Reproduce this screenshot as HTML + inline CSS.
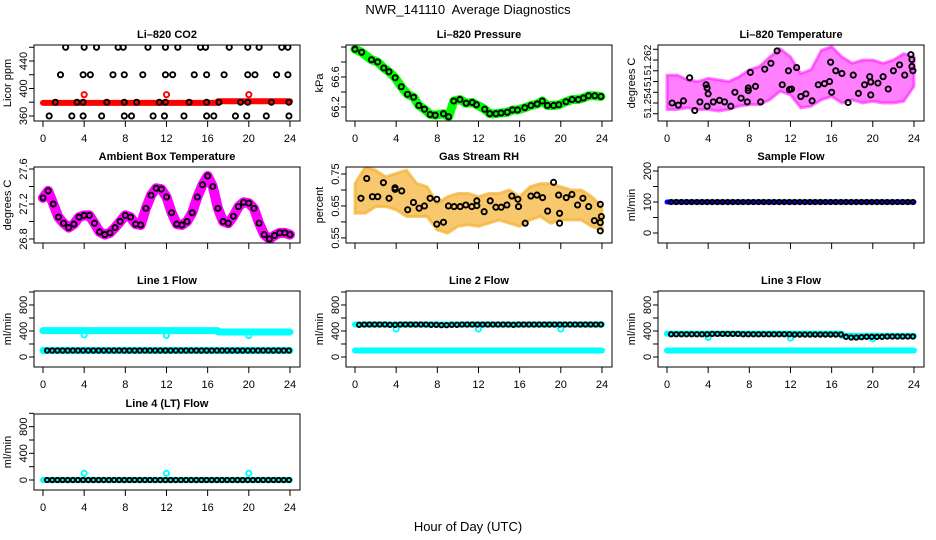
<!DOCTYPE html>
<html><head><meta charset="utf-8"><style>
body{margin:0;background:#fff}
svg{display:block;font-family:"Liberation Sans",sans-serif}
</style></head><body>
<svg id="chart" width="936" height="540" viewBox="0 0 936 540" xmlns="http://www.w3.org/2000/svg">
<rect width="936" height="540" fill="#fff"/>
<text x="468" y="14" font-size="13" text-anchor="middle">NWR_141110&#160; Average Diagnostics</text>
<text x="468" y="531" font-size="13" text-anchor="middle">Hour of Day (UTC)</text>
</svg>
<script>
// ---- data ----
const hourTicks = [0,4,8,12,16,20,24];
const halfHours = [0.4,0.9,1.4,1.9,2.4,2.9,3.4,3.9,4.4,4.9,5.4,5.9,6.4,6.9,7.4,7.9,8.4,8.9,9.4,9.9,10.4,10.9,11.4,11.9,12.4,12.9,13.4,13.9,14.4,14.9,15.4,15.9,16.4,16.9,17.4,17.9,18.4,18.9,19.4,19.9,20.4,20.9,21.4,21.9,22.4,22.9,23.4,23.9];
// CO2
const co2Hours = [2.2,4.0,5.2,7.3,7.8,10.2,11.9,13.1,15.3,15.8,18.1,19.9,21.0,23.2,23.8, 1.7,3.9,4.6,6.8,7.9,9.7,11.9,12.6,14.7,15.9,17.6,19.9,20.6,22.7,23.8, 1.2,3.3,3.9,6.2,7.9,9.1,11.3,11.9,14.2,15.9,17.1,19.2,19.9,22.2,23.9, 0.6,2.8,3.9,5.7,7.9,8.6,10.7,11.8,13.7,15.9,16.6,18.7,19.8,21.7,23.9];
const co2Values = [460,460,460,460,460,460,460,460,460,460,460,460,460,460,460, 420,420,420,420,420,420,420,420,420,420,420,420,420,420,420, 380,380,380,380,380,380,380,380,380,380,380,380,380,380,380, 360,360,360,360,360,360,360,360,360,360,360,360,360,360,360];
const co2RedSegStart = [0,17], co2RedSegEnd = [17,24], co2RedSegValue = [379,381.5];
const outlierHours = [4,12,20];
const co2RedOutliers = [391,391,391];
// Pressure
const presHours = [0,0.65,1.6,2.2,2.8,3.3,3.9,4.5,5.1,5.7,6.2,6.75,7.3,7.8,8.6,9.1,9.6,10.2,10.8,11.4,11.8,12.6,13.1,13.7,14.2,14.8,15.3,15.8,16.5,17.1,17.7,18.2,18.7,19.3,19.8,20.5,21.1,21.7,22.2,22.7,23.3,23.9];
const presValues = [66.97,66.93,66.83,66.80,66.72,66.67,66.59,66.47,66.37,66.33,66.22,66.17,66.10,66.09,66.11,66.07,66.28,66.30,66.25,66.26,66.23,66.17,66.11,66.11,66.12,66.13,66.16,66.16,66.19,66.22,66.24,66.28,66.22,66.22,66.23,66.27,66.30,66.30,66.32,66.35,66.35,66.34];
// Li-820 temperature
const tempHours = [0.5,1.1,1.6,2.2,2.7,3.2,3.8,3.9,4,3.9,4.5,5.1,5.6,6.2,6.6,7.2,7.8,7.9,7.9,8.1,8.6,9.1,9.5,10.1,10.7,11.2,11.8,11.9,12.1,12.6,13,13.5,14.1,14.7,15.3,15.8,15.9,16.0,16.4,17,17.6,18.1,18.6,19.2,19.7,19.8,19.8,20.5,21,21.5,22,22.6,23.1,23.7,23.8,23.8,23.9];
const tempValues = [51.2540,51.2536,51.2544,51.2587,51.2526,51.2542,51.2574,51.2568,51.2557,51.2534,51.2542,51.2545,51.2542,51.2534,51.2560,51.2549,51.2542,51.2568,51.2563,51.2597,51.2571,51.2542,51.2603,51.2614,51.2637,51.2574,51.2600,51.2565,51.2566,51.2606,51.2552,51.2557,51.2544,51.2574,51.2576,51.2580,51.2616,51.2560,51.2600,51.2595,51.2541,51.2592,51.2558,51.2574,51.2589,51.2579,51.2555,51.2577,51.2589,51.2566,51.2600,51.2611,51.2592,51.2630,51.2621,51.2608,51.2600];
const envHours = [0,1,2,3,4,5,6,7,8,9,10,11,12,13,14,15,16,17,18,19,20,21,22,23,24];
const tempUpper = [51.2592,51.2592,51.2583,51.2580,51.2586,51.2583,51.2580,51.2589,51.2602,51.2608,51.2626,51.2641,51.2626,51.2595,51.2602,51.2638,51.2645,51.2626,51.2614,51.2620,51.2620,51.2614,51.2620,51.2632,51.2626];
const tempLower = [51.2528,51.2528,51.2531,51.2528,51.2528,51.2525,51.2528,51.2534,51.2537,51.2537,51.2546,51.2562,51.2555,51.2531,51.2534,51.2546,51.2552,51.2540,51.2546,51.2540,51.2543,51.2540,51.2540,51.2543,51.2571];
// Ambient box temperature
const ambHours = [0,0.5,1,1.5,2,2.5,3,3.5,4,4.5,5,5.5,6,6.5,7,7.5,8,8.5,9,9.5,10,10.5,11,11.5,12,12.5,13,13.5,14,14.5,15,15.5,16,16.5,17,17.5,18,18.5,19,19.5,20,20.5,21,21.5,22,22.5,23,23.5,24];
const ambValues = [27.27,27.35,27.2,27.05,26.98,26.93,26.97,27.05,27.07,27.07,26.98,26.88,26.85,26.87,26.93,27.0,27.07,27.05,26.97,26.96,27.15,27.3,27.38,27.37,27.28,27.1,26.97,26.96,27.0,27.1,27.28,27.42,27.52,27.4,27.15,27.0,26.98,27.06,27.17,27.22,27.21,27.15,26.98,26.85,26.8,26.84,26.87,26.87,26.85];
// Gas stream RH
const rhUpper = [0.720,0.772,0.762,0.741,0.752,0.762,0.720,0.710,0.658,0.679,0.689,0.689,0.679,0.689,0.689,0.700,0.679,0.710,0.720,0.720,0.710,0.700,0.700,0.679,0.648];
const rhLower = [0.627,0.627,0.648,0.648,0.638,0.617,0.617,0.617,0.575,0.565,0.586,0.591,0.586,0.596,0.606,0.596,0.586,0.606,0.617,0.596,0.606,0.606,0.606,0.586,0.575];
const rhHours = [0.58,1.14,1.69,2.21,2.76,3.31,3.89,3.89,4.54,5.12,5.68,6.23,6.75,7.30,7.95,7.95,8.60,9.08,9.63,10.22,10.77,11.35,11.84,11.84,12.55,13.14,13.69,14.21,14.76,15.24,15.83,15.89,16.54,17.09,17.68,18.23,18.72,19.30,19.79,19.88,19.88,20.53,21.08,21.63,22.15,22.71,23.26,23.84,23.84,23.94,23.84];
const rhValues = [0.674,0.736,0.679,0.679,0.723,0.674,0.707,0.702,0.697,0.638,0.661,0.643,0.650,0.674,0.671,0.593,0.599,0.650,0.648,0.648,0.653,0.648,0.651,0.666,0.632,0.666,0.646,0.646,0.653,0.681,0.671,0.648,0.596,0.681,0.684,0.676,0.634,0.724,0.684,0.627,0.596,0.676,0.686,0.653,0.674,0.648,0.604,0.655,0.598,0.617,0.572];
// Flows
const sampleFlow = [100,100,100,100,100,100,100,100,100,100,100,100,100,100,100,100,100,100,100,100,100,100,100,100,100,100,100,100,100,100,100,100,100,100,100,100,100,100,100,100,100,100,100,100,100,100,100,100];
const line1Black = [100,100,100,100,100,100,100,100,100,100,100,100,100,100,100,100,100,100,100,100,100,100,100,100,100,100,100,100,100,100,100,100,100,100,100,100,100,100,100,100,100,100,100,100,100,100,100,100];
const line2Black = [495,500,500,500,500,500,495,495,500,500,500,500,500,500,495,495,490,490,495,495,500,500,500,500,500,500,500,500,500,500,495,500,500,500,500,500,500,500,500,500,500,500,500,500,500,500,500,500];
const line3Black = [350,350,350,350,350,350,350,350,355,355,355,355,355,355,350,350,350,350,350,350,350,350,350,350,345,345,345,345,345,345,345,345,345,345,310,300,300,305,310,310,310,310,315,315,315,315,315,315];
const line4Black = [0,0,0,0,0,0,0,0,0,0,0,0,0,0,0,0,0,0,0,0,0,0,0,0,0,0,0,0,0,0,0,0,0,0,0,0,0,0,0,0,0,0,0,0,0,0,0,0];
const line1CyanStart = [0,17,0], line1CyanEnd = [17,24,24], line1CyanValue = [405,385,100];
const line2CyanStart = [0,0], line2CyanEnd = [24,24], line2CyanValue = [500,100];
const line3CyanStart = [0,17,0], line3CyanEnd = [17,24,24], line3CyanValue = [360,325,100];
const line4CyanStart = [0], line4CyanEnd = [24], line4CyanValue = [0];
const sampleBlueStart = [0], sampleBlueEnd = [24], sampleBlueValue = [100];
const line1Outliers = [340,330,330];
const line2Outliers = [430,430,430];
const line3Outliers = [300,290,280];
const line4Outliers = [100,100,100];

// ---- rendering ----
const svg = document.getElementById('chart');
const NS = 'http://www.w3.org/2000/svg';
function mk(tag, attrs, parent){const e=document.createElementNS(NS,tag);for(const k in attrs)e.setAttribute(k,attrs[k]);(parent||svg).appendChild(e);return e;}

const colX = [34,346,658], rowY = [45,167,291,414], W = 266, Hh = 76;

function panel(o){
  const x0 = colX[o.col], y0 = rowY[o.row];
  const g = mk('g',{});
  
  
  const xs = h => x0 + 9 + h * 10.29;
  const ys = v => y0 + Hh - (v - o.lo) / (o.hi - o.lo) * Hh;
  const clipId = 'clip' + o.col + o.row;
  const cp = mk('clipPath',{id:clipId},g); mk('rect',{x:x0,y:y0,width:W,height:Hh},cp);
  const plot = mk('g',{'clip-path':'url(#'+clipId+')'},g);
  o.draw(plot, xs, ys);
  const box = mk('rect',{x:x0,y:y0,width:W,height:Hh,fill:'none',stroke:'#000','stroke-width':1},g);
  
  
  const t = mk('text',{x:x0+W/2,y:y0-7,'font-size':11,'font-weight':'bold','text-anchor':'middle'},g);
  t.textContent = o.title;
  
  
  mk('line',{x1:xs(0),x2:xs(24),y1:y0+Hh,y2:y0+Hh,stroke:'#000'},g);
  hourTicks.forEach(h=>{
    mk('line',{x1:xs(h),x2:xs(h),y1:y0+Hh,y2:y0+Hh+6,stroke:'#000'},g);
    if(o.xlabels){const tl=mk('text',{x:xs(h),y:y0+Hh+21,'font-size':11,'text-anchor':'middle'},g);tl.textContent=h;
      
      }
  });
  o.yticks.forEach(v=>{const y=ys(v);mk('line',{x1:x0-5,x2:x0,y1:y,y2:y,stroke:'#000'},g);});
  o.ylabels.forEach((v,i)=>{const y=ys(v);
    const tl=mk('text',{x:x0-7,y:y,'font-size':o.ylabelSize||11,'text-anchor':'middle',transform:'rotate(-90 '+(x0-7)+' '+y+')'},g);
    tl.textContent = o.ylabelText ? o.ylabelText[i] : v;
    
    });
  const yl = mk('text',{x:x0-23,y:y0+Hh/2,'font-size':11,'text-anchor':'middle',transform:'rotate(-90 '+(x0-23)+' '+(y0+Hh/2)+')'},g);
  yl.textContent = o.ytitle;
  
  
}
function circles(p, xs, ys, hrs, vals, color, name, r){
  hrs.forEach((h,i)=>{const c=mk('circle',{cx:xs(h),cy:ys(vals[i]),r:r||2.6,fill:'none',stroke:color,'stroke-width':1.9},p);
    
    });
}
function band(p, xs, ys, hrs, vals, color, w, name){
  const pts = hrs.map((h,i)=>xs(h)+','+ys(vals[i])).join(' ');
  const l = mk('polyline',{points:pts,fill:'none',stroke:color,'stroke-width':w,'stroke-linejoin':'round','stroke-linecap':'round'},p);
  
  
}
function segs(p, xs, ys, s, e, v, color, w, name){
  s.forEach((a,i)=>{const l=mk('line',{x1:xs(a),x2:xs(e[i]),y1:ys(v[i]),y2:ys(v[i]),stroke:color,'stroke-width':w,'stroke-linecap':'round'},p);
    
    });
}
function envelope(p, xs, ys, hrs, up, lo, color, op, name){
  const pts = hrs.map((h,i)=>xs(h)+','+ys(up[i])).concat(hrs.slice().reverse().map((h,i)=>xs(h)+','+ys(lo[hrs.length-1-i]))).join(' ');
  const pg = mk('polygon',{points:pts,fill:color,'fill-opacity':op,stroke:color,'stroke-width':3,'stroke-opacity':op},p);
  
  
}

panel({name:'co2-panel',title:'Li\u2013820 CO2',col:0,row:0,lo:352.7,hi:463.3,yticks:[360,380,400,420,440,460],ylabels:[360,400,440],ytitle:'Licor ppm',xlabels:true,
  draw:(p,xs,ys)=>{segs(p,xs,ys,co2RedSegStart,co2RedSegEnd,co2RedSegValue,'#f00',6,'co2-red-band');
    circles(p,xs,ys,outlierHours,co2RedOutliers,'#f00','co2-red-point');
    circles(p,xs,ys,co2Hours,co2Values,'#000','co2-point');}});
panel({name:'pressure-panel',title:'Li\u2013820 Pressure',col:1,row:0,lo:66.013,hi:67.027,yticks:[66.2,66.4,66.6,66.8,67.0],ylabels:[66.2,66.6],ytitle:'kPa',xlabels:true,
  draw:(p,xs,ys)=>{band(p,xs,ys,presHours,presValues,'#0f0',9,'pressure-band');
    circles(p,xs,ys,presHours,presValues,'#000','pressure-point');}});
panel({name:'temperature-panel',title:'Li\u2013820 Temperature',col:2,row:0,lo:51.25065,hi:51.2648,yticks:[51.252,51.254,51.256,51.258,51.26,51.262,51.264],ylabels:[51.254,51.258,51.262],ylabelText:['51.254','51','51.262'],ylabelSize:10,ytitle:'degrees C',xlabels:true,
  draw:(p,xs,ys)=>{envelope(p,xs,ys,envHours,tempUpper,tempLower,'#f0f',0.5,'temperature-scatter');
    circles(p,xs,ys,tempHours,tempValues,'#000','temperature-point');}});
panel({name:'ambient-panel',title:'Ambient Box Temperature',col:0,row:1,lo:26.754,hi:27.623,yticks:[26.8,27.0,27.2,27.4,27.6],ylabels:[26.8,27.2,27.6],ytitle:'degrees C',xlabels:false,
  draw:(p,xs,ys)=>{band(p,xs,ys,ambHours,ambValues,'#f0f',10,'ambient-band');
    circles(p,xs,ys,ambHours,ambValues,'#000','ambient-point');}});
panel({name:'rh-panel',title:'Gas Stream RH',col:1,row:1,lo:0.534,hi:0.772,yticks:[0.55,0.6,0.65,0.7,0.75],ylabels:[0.55,0.65,0.75],ytitle:'percent',xlabels:false,
  draw:(p,xs,ys)=>{envelope(p,xs,ys,envHours,rhUpper,rhLower,'#f4b030',0.7,'rh-scatter');
    circles(p,xs,ys,rhHours,rhValues,'#000','rh-point');}});
panel({name:'sample-flow-panel',title:'Sample Flow',col:2,row:1,lo:-32.3,hi:212.9,yticks:[0,50,100,150,200],ylabels:[0,100,200],ytitle:'ml/min',xlabels:false,
  draw:(p,xs,ys)=>{segs(p,xs,ys,sampleBlueStart,sampleBlueEnd,sampleBlueValue,'#00f',5,'sample-flow-band');
    circles(p,xs,ys,halfHours,sampleFlow,'#000','sample-flow-point',2.2);}});
const flowTicks=[0,200,400,600,800,1000], flowLabels=[0,400,800];
panel({name:'line1-flow-panel',title:'Line 1 Flow',col:0,row:2,lo:-154,hi:1015,yticks:flowTicks,ylabels:flowLabels,ytitle:'ml/min',xlabels:true,
  draw:(p,xs,ys)=>{segs(p,xs,ys,line1CyanStart,line1CyanEnd,line1CyanValue,'#0ff',7,'line1-cyan-band');
    circles(p,xs,ys,outlierHours,line1Outliers,'#0ff','line1-cyan-point');
    circles(p,xs,ys,halfHours,line1Black,'#000','line1-point',2.2);}});
panel({name:'line2-flow-panel',title:'Line 2 Flow',col:1,row:2,lo:-154,hi:1015,yticks:flowTicks,ylabels:flowLabels,ytitle:'ml/min',xlabels:true,
  draw:(p,xs,ys)=>{segs(p,xs,ys,line2CyanStart,line2CyanEnd,line2CyanValue,'#0ff',6,'line2-cyan-band');
    circles(p,xs,ys,outlierHours,line2Outliers,'#0ff','line2-cyan-point');
    circles(p,xs,ys,halfHours,line2Black,'#000','line2-point',2.2);}});
panel({name:'line3-flow-panel',title:'Line 3 Flow',col:2,row:2,lo:-154,hi:1015,yticks:flowTicks,ylabels:flowLabels,ytitle:'ml/min',xlabels:true,
  draw:(p,xs,ys)=>{segs(p,xs,ys,line3CyanStart,line3CyanEnd,line3CyanValue,'#0ff',6,'line3-cyan-band');
    circles(p,xs,ys,outlierHours,line3Outliers,'#0ff','line3-cyan-point');
    circles(p,xs,ys,halfHours,line3Black,'#000','line3-point',2.2);}});
panel({name:'line4-flow-panel',title:'Line 4 (LT) Flow',col:0,row:3,lo:-150,hi:990,yticks:flowTicks,ylabels:flowLabels,ytitle:'ml/min',xlabels:true,
  draw:(p,xs,ys)=>{segs(p,xs,ys,line4CyanStart,line4CyanEnd,line4CyanValue,'#0ff',6,'line4-cyan-band');
    circles(p,xs,ys,outlierHours,line4Outliers,'#0ff','line4-cyan-point');
    circles(p,xs,ys,halfHours,line4Black,'#000','line4-point',2.2);}});
</script>
</body></html>
